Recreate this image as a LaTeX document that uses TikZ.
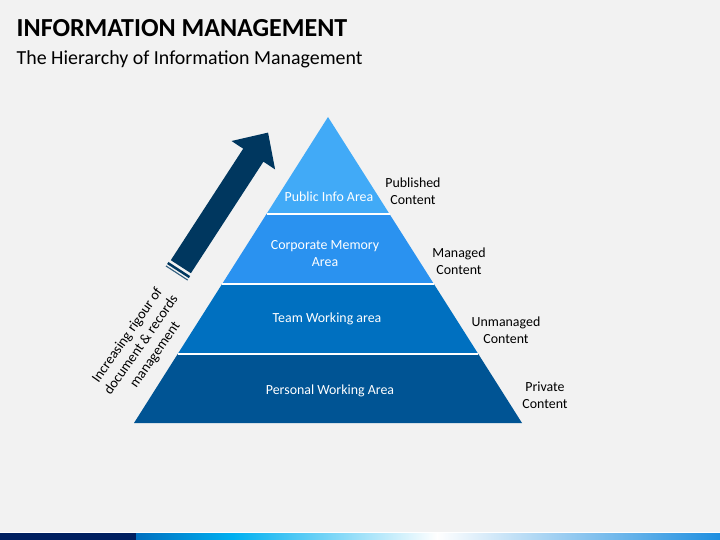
\documentclass[tikz,border=0pt]{standalone}
\usepackage{fontspec}
\setmainfont{Carlito}
\definecolor{bg}{HTML}{F2F2F2}
\definecolor{lay1}{HTML}{41AAF7}
\definecolor{lay2}{HTML}{2A92F0}
\definecolor{lay3}{HTML}{0070C0}
\definecolor{lay4}{HTML}{005494}
\definecolor{arrowc}{HTML}{00375F}
\definecolor{navy}{HTML}{002060}
\definecolor{cyanb}{HTML}{00B0F0}
\definecolor{endb}{HTML}{1E8FE0}
\tikzset{
  inlabel/.style={text=white, font=\fontsize{13.9}{16.5}\selectfont, align=center, inner sep=0pt},
  outlabel/.style={text=black, font=\fontsize{13.9}{16.8}\selectfont, align=center, inner sep=0pt},
  sep/.style={draw=white, line width=1.3pt},
}
\begin{document}
\begin{tikzpicture}[x=1pt,y=-1pt]
\useasboundingbox (0,0) rectangle (720,540);
\fill[bg] (0,0) rectangle (720,540);
% title
\node[anchor=base west, inner sep=0pt, font=\fontsize{26}{30}\selectfont\bfseries] (title) at (16.5,36.7) {INFORMATION MANAGEMENT};
\node[anchor=base west, inner sep=0pt, font=\fontsize{19.9}{24}\selectfont] (subtitle) at (16.5,65) {The Hierarchy of Information Management};
% pyramid layers
\coordinate (apex) at (328,117);
\fill[lay1] (328,117) -- (389.5,214) -- (266.5,214) -- cycle;
\fill[lay2] (266.5,214) -- (389.5,214) -- (433.9,284) -- (222.1,284) -- cycle;
\fill[lay3] (222.1,284) -- (433.9,284) -- (478.3,354) -- (177.7,354) -- cycle;
\fill[lay4] (177.7,354) -- (478.3,354) -- (522,423) -- (134,423) -- cycle;
\draw[sep] (266.5,214) -- (389.5,214);
\draw[sep] (222.1,284) -- (433.9,284);
\draw[sep] (177.7,354) -- (478.3,354);
% layer labels
\node[inlabel] (l1) at (329,197) {Public Info Area};
\node[inlabel] (l2) at (325,253.5) {Corporate Memory\\Area};
\node[inlabel] (l3) at (327,319) {Team Working area};
\node[inlabel] (l4) at (330,391) {Personal Working Area};
% right labels
\node[outlabel] (r1) at (413,191.5) {Published\\Content};
\node[outlabel] (r2) at (459,261) {Managed\\Content};
\node[outlabel] (r3) at (506,330.5) {Unmanaged\\Content};
\node[outlabel] (r4) at (545,395.5) {Private\\Content};
% arrow
\fill[arrowc] (170.8,260.2) -- (243.2,148.7) -- (231.5,141.0) -- (268.05,132.6) -- (275.1,169.4) -- (263.4,161.7) -- (190.9,273.2) -- cycle;
\draw[arrowc, line width=2.5pt] (167.8,263.0) -- (189.5,277.1);
\draw[arrowc!80!white, line width=1.1pt] (165.9,265.9) -- (187.7,280.1);
% rotated text
\node[outlabel, font=\fontsize{14.2}{17}\selectfont, rotate=55] (rig) at (141.5,345.5) {Increasing rigour of\\document \& records\\management};
% bottom bar
\fill[white] (0,531.8) rectangle (720,533.2);
\fill[navy] (0,533.2) rectangle (136,540);
\shade[left color=lay3, right color=cyanb] (136,533.2) rectangle (233,540);
\shade[left color=cyanb, right color=white!97!bg] (233,533.2) rectangle (437,540);
\shade[left color=white!97!bg, right color=endb] (437,533.2) rectangle (720,540);
\end{tikzpicture}
\end{document}
